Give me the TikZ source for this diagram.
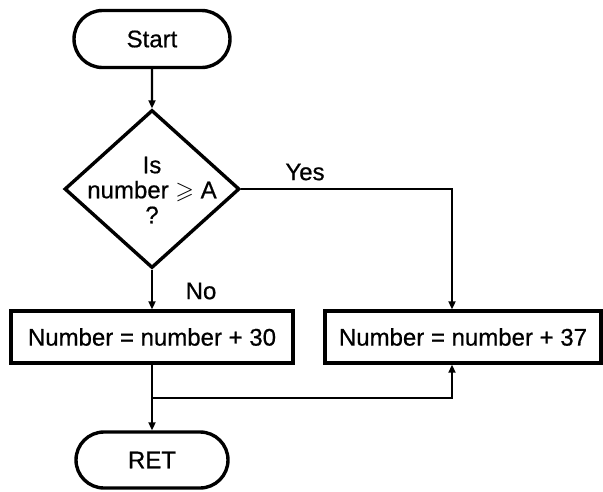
\documentclass[tikz,border=0pt]{standalone}
\usepackage{amssymb}
\usepackage{fontspec}
\setmainfont{Liberation Sans}[FakeBold=0.6]
\usetikzlibrary{shapes.geometric,shapes.misc,arrows.meta}
\begin{document}
\begin{tikzpicture}[x=1pt,y=-1pt,
  txt/.style={font=\fontsize{24}{25}\selectfont},
  term/.style={rounded rectangle, draw, line width=3.4pt, minimum width=156pt, minimum height=57pt, inner sep=0pt, txt},
  proc/.style={rectangle, draw, line width=3.4pt, minimum height=52pt, inner sep=0pt, txt},
  decision/.style={diamond, draw, line width=3.4pt, minimum width=175pt, minimum height=158pt, inner sep=0pt},
  conn/.style={line width=2.4pt},
  arr/.style={conn, -{Triangle[length=8pt,width=7pt]}},
  lbl/.style={txt}]
\useasboundingbox (0,0) rectangle (603,491);
\fill[white] (0,0) rectangle (603,491);

\node[term] (start) at (152,39) {Start};
\node[decision] (dec) at (152,189) {};
\node[txt, align=center] (dectext) at (152,190) {Is\\number $\geqslant$ A\\?};
\node[proc, minimum width=282pt] (box30) at (152,337) {Number = number + 30};
\node[proc, minimum width=276pt] (box37) at (463,337) {Number = number + 37};
\node[term, minimum width=152pt, minimum height=56pt] (ret) at (152,460) {RET};

\node[lbl] (yes) at (305,172) {Yes};
\node[lbl] (no) at (201,291) {No};

\coordinate (yescorner) at (452,189);
\coordinate (join) at (152,398);

\draw[arr] (start) -- (dec.north);
\draw[arr] (dec.south) -- (box30.north);
\draw[arr] (dec.east) -- (yescorner) -- (yescorner |- box37.north);
\draw[arr] (box30.south) -- (ret.north);
\draw[arr] (join) -- (join -| yescorner) -- (yescorner |- box37.south);
\end{tikzpicture}
\end{document}
